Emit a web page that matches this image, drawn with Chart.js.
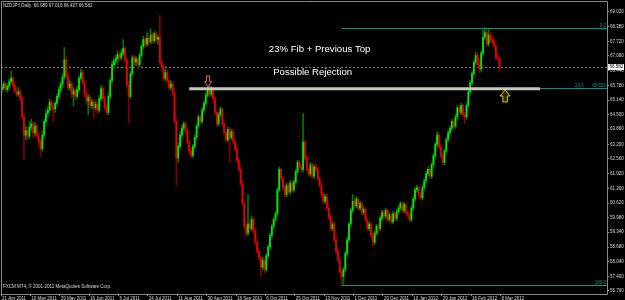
<!DOCTYPE html>
<html>
<head>
<meta charset="utf-8">
<script src="https://cdn.jsdelivr.net/npm/chart.js@4.4.0/dist/chart.umd.min.js"></script>
<style>
  html, body { margin: 0; padding: 0; background: #000; }
  canvas { display: block; }
</style>
</head>
<body>
<canvas id="grafico" width="625" height="300"></canvas>
<script>
// Etiquetas de fecha (una cada 16 velas) y del eje de precios
const fechas = ["21 Apr 2011", "10 May 2011", "29 May 2011", "16 Jun 2011", "5 Jul 2011", "24 Jul 2011",
  "11 Aug 2011", "30 Aug 2011", "18 Sep 2011", "6 Oct 2011", "25 Oct 2011", "13 Nov 2011",
  "1 Dec 2011", "20 Dec 2011", "10 Jan 2012", "29 Jan 2012", "16 Feb 2012", "8 Mar 2012"];
const precioTicks = [56.760, 57.400, 58.040, 58.680, 59.340, 59.980, 60.620, 61.260, 61.920, 62.560,
  63.200, 63.860, 64.500, 65.140, 65.780, 66.440, 67.080, 67.720, 68.380, 69.020];

// Velas diarias NZDJPY
const aperturas = [
  65.60,65.70,65.85,65.60,65.75,65.95,66.10,65.80,65.55,65.40,
  65.50,65.20,64.40,63.60,63.80,63.55,63.95,64.10,63.70,64.00,
  63.60,63.30,63.00,63.60,64.20,64.55,64.70,65.05,64.85,64.75,
  65.00,65.30,65.60,65.85,66.15,66.90,66.20,65.70,65.85,65.40,
  65.55,65.30,65.60,66.10,66.35,65.90,65.40,65.10,65.25,64.90,
  65.05,64.80,64.95,64.70,65.20,65.65,65.20,64.80,64.60,65.30,
  66.00,66.70,66.85,66.95,67.15,67.00,67.20,67.40,66.90,65.80,
  65.30,66.30,67.00,66.80,66.95,66.70,67.10,67.50,67.80,67.60,
  67.85,67.70,68.00,67.75,68.05,67.80,67.90,66.80,66.60,66.10,
  66.35,66.00,65.70,65.85,65.45,64.20,62.60,63.10,63.60,63.90,
  64.10,63.80,63.30,62.90,62.70,63.10,63.50,64.00,64.40,64.20,
  64.70,65.00,65.35,65.60,65.40,65.65,65.20,64.60,64.10,64.50,
  64.75,64.10,63.70,63.40,63.85,63.50,63.75,63.30,63.00,62.50,
  62.10,61.50,60.60,59.60,59.30,59.70,59.50,59.90,59.40,58.90,
  58.50,58.20,57.80,58.10,57.70,58.30,58.70,59.20,59.60,59.90,
  60.15,61.20,62.10,61.70,61.30,61.00,61.40,61.10,61.50,61.20,
  61.55,62.00,62.40,62.20,62.10,63.30,62.60,62.10,61.90,62.30,
  61.80,62.20,62.10,61.70,61.40,61.00,60.70,60.90,60.40,60.00,
  59.50,59.70,59.00,58.50,58.10,57.60,57.40,57.70,58.40,59.00,
  59.70,60.30,60.70,60.50,60.80,60.40,60.60,60.20,60.35,59.90,
  59.50,59.70,59.20,58.90,59.30,59.60,59.50,59.95,60.20,60.05,
  60.30,59.90,60.10,59.80,60.15,59.95,60.25,60.40,60.60,60.30,
  60.55,60.20,60.10,59.90,60.40,60.80,61.20,61.30,61.00,60.85,
  61.30,61.60,61.90,62.10,61.80,62.30,62.70,63.20,63.60,63.10,
  62.70,62.40,62.90,63.40,63.70,63.90,64.20,64.00,64.40,64.80,
  64.60,64.90,64.50,64.40,64.90,65.50,65.90,66.30,66.80,67.10,
  66.70,66.50,67.20,67.90,68.10,67.60,68.00,67.80,67.70,67.50,
  67.00,66.989];
const maximos = [
  65.85,65.95,65.90,65.85,66.05,66.40,66.15,65.90,65.65,65.70,
  65.60,65.30,64.50,64.00,63.95,64.20,64.30,64.20,64.15,64.10,
  63.70,63.45,63.75,64.30,64.70,64.85,65.20,65.15,65.00,65.10,
  65.40,65.75,65.95,66.30,67.45,67.10,66.30,66.00,65.95,65.70,
  65.65,65.75,66.20,66.50,66.45,66.00,65.55,65.40,65.35,65.20,
  65.15,65.10,65.05,65.35,65.80,65.75,65.30,64.95,65.45,66.10,
  66.85,67.00,67.10,67.30,67.25,67.35,67.80,67.50,67.00,65.95,
  66.40,67.10,67.10,67.05,67.00,67.20,67.60,67.95,67.90,68.10,
  67.95,68.25,68.10,68.15,68.15,68.00,68.85,66.95,66.70,66.50,
  66.45,66.10,66.00,65.95,65.55,64.30,63.25,63.75,64.05,64.20,
  64.20,63.90,63.40,63.05,63.20,63.60,64.10,64.50,64.50,64.80,
  65.10,65.45,65.72,65.70,65.75,65.70,65.30,64.70,64.60,64.85,
  64.80,64.20,63.80,63.95,63.95,63.85,63.85,63.40,63.10,62.60,
  62.20,61.60,60.70,59.75,61.00,59.85,60.05,60.00,59.50,59.05,
  58.60,58.30,58.25,58.20,58.40,58.80,59.30,59.70,60.00,60.25,
  61.30,62.20,62.15,61.80,61.40,61.50,61.50,61.60,61.60,61.65,
  62.10,62.50,62.50,62.30,64.55,63.40,62.70,62.20,62.40,62.40,
  62.30,62.35,62.20,61.80,61.50,61.10,61.00,61.00,60.50,60.10,
  59.80,59.80,59.10,58.60,58.20,57.70,57.80,58.50,59.10,59.80,
  60.40,61.00,60.80,60.90,60.85,60.70,60.70,60.45,60.40,60.00,
  59.80,59.75,59.30,59.40,59.70,59.70,60.05,60.30,60.30,60.40,
  60.35,60.20,60.15,60.25,60.20,60.35,60.50,60.70,60.65,60.65,
  60.60,60.30,60.20,60.50,60.90,61.30,61.40,61.35,61.10,61.40,
  61.70,62.00,62.20,62.15,62.40,62.80,63.30,63.75,63.70,63.20,
  62.80,63.00,63.50,63.80,64.00,64.30,64.30,64.50,64.90,64.90,
  65.00,64.95,64.60,65.00,65.60,66.00,66.40,66.90,67.25,67.20,
  66.95,67.30,68.20,68.321,68.20,68.30,68.10,68.00,67.85,67.60,
  67.20,67.016];
const minimos = [
  65.45,65.60,65.50,65.50,65.65,65.85,65.70,65.45,65.30,65.30,
  65.10,64.30,62.55,63.40,63.35,63.45,63.80,63.50,63.55,63.45,
  63.10,62.65,62.90,63.50,64.05,64.40,64.60,64.70,64.20,64.60,
  64.90,65.20,65.45,65.70,66.05,66.10,65.60,65.55,65.25,64.90,
  65.15,65.20,65.50,66.00,65.80,65.30,64.95,64.50,64.80,64.75,
  64.35,64.70,64.55,64.60,65.10,65.10,64.70,64.50,64.50,65.20,
  65.90,66.55,66.70,66.80,66.85,66.90,67.10,66.80,65.70,64.15,
  65.20,66.20,66.70,66.65,66.55,66.60,67.00,67.40,67.45,67.50,
  67.55,67.60,67.60,67.65,67.70,67.60,66.70,66.45,66.00,66.00,
  65.90,65.60,65.60,65.35,64.10,61.40,62.40,63.00,63.45,63.75,
  63.70,63.20,62.80,62.60,62.60,63.00,63.40,63.90,64.05,64.10,
  64.60,64.90,65.25,65.30,65.30,65.10,64.50,64.00,64.00,64.40,
  64.00,63.60,63.30,63.30,62.40,63.40,63.20,62.90,62.40,62.00,
  61.40,60.50,59.50,59.15,59.20,59.35,59.40,59.30,58.80,58.40,
  58.10,57.40,57.70,57.55,57.60,58.20,58.60,59.10,59.50,59.80,
  60.05,61.10,61.60,61.20,60.90,60.90,61.00,61.00,61.10,61.10,
  61.45,61.90,62.10,61.95,62.00,62.50,62.00,61.80,61.80,61.70,
  61.70,62.00,61.60,61.30,60.90,60.60,60.60,60.30,59.90,59.40,
  59.40,58.90,58.40,58.00,57.50,57.011,57.05,57.60,58.30,58.90,
  59.60,60.20,60.40,60.40,60.30,60.30,60.10,60.10,59.80,59.40,
  59.40,59.10,58.70,58.80,59.20,59.20,59.40,59.85,59.90,59.95,
  59.80,59.80,59.70,59.70,59.85,59.85,60.15,60.30,60.20,60.20,
  60.10,60.00,59.80,59.80,60.30,60.70,61.10,60.90,60.75,60.75,
  61.20,61.50,61.80,61.70,61.70,62.20,62.60,63.10,63.00,62.60,
  62.30,62.30,62.80,63.30,63.60,63.80,63.90,63.90,64.30,64.50,
  64.50,64.40,64.10,64.30,64.80,65.40,65.80,66.20,66.70,66.60,
  66.35,66.40,67.10,67.80,67.50,67.50,67.70,67.60,67.40,66.90,
  66.85,66.427];
const cierres = [
  65.70,65.85,65.60,65.75,65.95,66.10,65.80,65.55,65.40,65.50,
  65.20,64.40,63.60,63.80,63.55,63.95,64.10,63.70,64.00,63.60,
  63.30,63.00,63.60,64.20,64.55,64.70,65.05,64.85,64.75,65.00,
  65.30,65.60,65.85,66.15,66.90,66.20,65.70,65.85,65.40,65.55,
  65.30,65.60,66.10,66.35,65.90,65.40,65.10,65.25,64.90,65.05,
  64.80,64.95,64.70,65.20,65.65,65.20,64.80,64.60,65.30,66.00,
  66.70,66.85,66.95,67.15,67.00,67.20,67.40,66.90,65.80,65.30,
  66.30,67.00,66.80,66.95,66.70,67.10,67.50,67.80,67.60,67.85,
  67.70,68.00,67.75,68.05,67.80,67.90,66.80,66.60,66.10,66.35,
  66.00,65.70,65.85,65.45,64.20,62.60,63.10,63.60,63.90,64.10,
  63.80,63.30,62.90,62.70,63.10,63.50,64.00,64.40,64.20,64.70,
  65.00,65.35,65.60,65.40,65.65,65.20,64.60,64.10,64.50,64.75,
  64.10,63.70,63.40,63.85,63.50,63.75,63.30,63.00,62.50,62.10,
  61.50,60.60,59.60,59.30,59.70,59.50,59.90,59.40,58.90,58.50,
  58.20,57.80,58.10,57.70,58.30,58.70,59.20,59.60,59.90,60.15,
  61.20,62.10,61.70,61.30,61.00,61.40,61.10,61.50,61.20,61.55,
  62.00,62.40,62.20,62.10,63.30,62.60,62.10,61.90,62.30,61.80,
  62.20,62.10,61.70,61.40,61.00,60.70,60.90,60.40,60.00,59.50,
  59.70,59.00,58.50,58.10,57.60,57.40,57.70,58.40,59.00,59.70,
  60.30,60.70,60.50,60.80,60.40,60.60,60.20,60.35,59.90,59.50,
  59.70,59.20,58.90,59.30,59.60,59.50,59.95,60.20,60.05,60.30,
  59.90,60.10,59.80,60.15,59.95,60.25,60.40,60.60,60.30,60.55,
  60.20,60.10,59.90,60.40,60.80,61.20,61.30,61.00,60.85,61.30,
  61.60,61.90,62.10,61.80,62.30,62.70,63.20,63.60,63.10,62.70,
  62.40,62.90,63.40,63.70,63.90,64.20,64.00,64.40,64.80,64.60,
  64.90,64.50,64.40,64.90,65.50,65.90,66.30,66.80,67.10,66.70,
  66.50,67.20,67.90,68.10,67.60,68.00,67.80,67.70,67.50,67.00,
  66.99,66.582];

// Niveles de Fibonacci y precio actual
const fiboMax = 68.321;
const fiboMin = 57.011;
const fiboNiveles = [0.0, 23.6, 100.0];
const ultimoPrecio = 66.582;
const titulo = "NZDJPY,Daily  66.989 67.016 66.427 66.582";
const pie = "FXCM MT4, \u00A9 2001-2011 MetaQuotes Software Corp.";

// 1. Eje X: 330 ranuras, etiqueta cada 16 velas
const totalRanuras = 330;
const cadaN = 16;
const etiquetasX = Array.from({length: totalRanuras}, (_, i) =>
  (i % cadaN === 0 && fechas[i / cadaN]) ? fechas[i / cadaN] : '');

const verde = 'rgb(0,235,0)';
const rojo = 'rgb(235,0,0)';
const colores = cierres.map((c, i) => c >= aperturas[i] ? verde : rojo);
const coloresMecha = cierres.map((c, i) => c >= aperturas[i] ? 'rgb(0,120,0)' : 'rgb(130,0,0)');

const fuente = 'Liberation Sans';

// 2. Fondo negro
const fondo = {
  id: 'fondo',
  beforeDraw(chart) {
    const c = chart.ctx;
    c.save();
    c.fillStyle = '#000';
    c.fillRect(0, 0, chart.width, chart.height);
    c.restore();
  }
};

function flecha(c, cx, yBase, yPunta, ancho, anchoCuerpo, trazo, relleno) {
  const dir = yPunta > yBase ? 1 : -1;
  const largo = Math.abs(yPunta - yBase);
  const yCab = yBase + dir * largo * 0.5;
  c.beginPath();
  c.moveTo(cx - anchoCuerpo / 2, yBase);
  c.lineTo(cx + anchoCuerpo / 2, yBase);
  c.lineTo(cx + anchoCuerpo / 2, yCab);
  c.lineTo(cx + ancho / 2, yCab);
  c.lineTo(cx, yPunta);
  c.lineTo(cx - ancho / 2, yCab);
  c.lineTo(cx - anchoCuerpo / 2, yCab);
  c.closePath();
  c.fillStyle = relleno;
  c.fill();
  c.strokeStyle = trazo;
  c.lineWidth = 1;
  c.stroke();
}

// 3. Objetos dibujados encima (líneas, fibo, textos, flechas)
const anotaciones = {
  id: 'anotaciones',
  beforeDatasetsDraw(chart) {
    const {ctx: c, chartArea: a, scales: {y}} = chart;
    c.save();
    // línea de precio actual
    const yp = Math.round(y.getPixelForValue(ultimoPrecio)) + 0.5;
    c.strokeStyle = '#7a7a7a';
    c.setLineDash([2, 2]);
    c.beginPath();
    c.moveTo(a.left, yp);
    c.lineTo(a.right, yp);
    c.stroke();
    c.restore();
  },
  afterDatasetsDraw(chart) {
    const {ctx: c, chartArea: a, scales: {x, y}} = chart;
    c.save();

    // fibonacci
    const teal = 'rgb(0,150,140)';
    const x0 = x.getPixelForValue(185);
    c.font = '4.5px "' + fuente + '"';
    fiboNiveles.forEach(n => {
      const precio = fiboMax - (fiboMax - fiboMin) * n / 100;
      const yy = Math.round(y.getPixelForValue(precio)) + 0.5;
      c.strokeStyle = teal;
      c.lineWidth = 1;
      c.beginPath();
      c.moveTo(x0, yy);
      c.lineTo(a.right, yy);
      c.stroke();
      c.fillStyle = teal;
      c.textAlign = 'right';
      c.textBaseline = 'bottom';
      if (n === 23.6) {
        c.fillText(precio.toFixed(3), a.right - 1, yy - 0.5);
        c.textAlign = 'left';
        c.fillText(n.toFixed(1), a.right - 32, yy - 0.5);
      } else {
        c.fillText(n.toFixed(1), a.right - 1, yy - 0.5);
      }
    });

    // línea gris de soporte
    const ys = y.getPixelForValue(65.64);
    c.strokeStyle = 'rgb(196,200,186)';
    c.lineWidth = 3;
    c.beginPath();
    c.moveTo(x.getPixelForValue(102), ys);
    c.lineTo(x.getPixelForValue(293), ys);
    c.stroke();

    // flechas
    flecha(c, x.getPixelForValue(112.3), y.getPixelForValue(66.2), y.getPixelForValue(65.72),
      7, 3, 'rgb(225,110,80)', '#000');
    flecha(c, x.getPixelForValue(274), y.getPixelForValue(65.06), y.getPixelForValue(65.58),
      10, 4.5, 'rgb(215,210,0)', 'rgb(40,38,0)');

    // textos
    c.fillStyle = '#ffffff';
    c.textAlign = 'center';
    c.textBaseline = 'middle';
    c.font = '9.6px "' + fuente + '"';
    c.fillText('23% Fib + Previous Top', x.getPixelForValue(173), y.getPixelForValue(67.35));
    c.fillText('Possible Rejection', x.getPixelForValue(169.2), y.getPixelForValue(66.34));

    // marco
    c.strokeStyle = '#8a8a8a';
    c.lineWidth = 1;
    c.beginPath();
    c.moveTo(a.left + 0.5, a.bottom + 0.5);
    c.lineTo(a.left + 0.5, a.top + 0.5);
    c.lineTo(a.right + 0.5, a.top + 0.5);
    c.lineTo(a.right + 0.5, a.bottom + 0.5);
    c.lineTo(a.left + 0.5, a.bottom + 0.5);
    c.stroke();

    // título y pie
    c.fillStyle = '#d8d8d8';
    c.textAlign = 'left';
    c.textBaseline = 'middle';
    c.font = '4.5px "' + fuente + '"';
    c.fillText(titulo, a.left + 2, a.top + 4.5);
    c.fillText(pie, a.left + 2, a.bottom - 7);
    c.restore();
  },
  afterDraw(chart) {
    const {ctx: c, chartArea: a, scales: {y}} = chart;
    const yp = y.getPixelForValue(ultimoPrecio);
    c.save();
    c.fillStyle = '#ffffff';
    c.fillRect(a.right + 1, Math.round(yp) - 3, 16, 6);
    c.fillStyle = '#000';
    c.font = '4.5px "' + fuente + '"';
    c.textAlign = 'left';
    c.textBaseline = 'middle';
    c.fillText(ultimoPrecio.toFixed(3), a.right + 2.5, Math.round(yp));
    c.restore();
  }
};

// 4. Gráfico de velas con barras flotantes
new Chart(document.getElementById('grafico'), {
  type: 'bar',
  data: {
    labels: etiquetasX,
    datasets: [
      {
        label: 'mechas',
        data: minimos.map((l, i) => [l, maximos[i]]),
        backgroundColor: coloresMecha,
        barThickness: 1,
        grouped: false,
        order: 2
      },
      {
        label: 'cuerpos',
        data: aperturas.map((o, i) => [o, cierres[i]]),
        backgroundColor: colores,
        barThickness: 1.1,
        minBarLength: 1,
        grouped: false,
        order: 1
      }
    ]
  },
  options: {
    responsive: false,
    animation: false,
    devicePixelRatio: 1,
    layout: { padding: { left: 1, top: 1, right: 0, bottom: 0 } },
    plugins: { legend: { display: false }, tooltip: { enabled: false } },
    scales: {
      x: {
        type: 'category',
        offset: true,
        border: { display: false },
        grid: {
          drawOnChartArea: false,
          drawTicks: true,
          tickLength: 2,
          color: ctx => etiquetasX[ctx.index] ? '#8a8a8a' : 'rgba(0,0,0,0)'
        },
        ticks: {
          autoSkip: false, maxRotation: 0, minRotation: 0, align: 'start', padding: 0,
          color: '#d8d8d8', font: { family: fuente, size: 4.5 }
        },
        afterFit: s => { s.height = 6; s.paddingLeft = 0; s.paddingRight = 0; }
      },
      y: {
        position: 'right',
        min: 56.628,
        max: 69.49,
        border: { display: false },
        grid: { drawOnChartArea: false, drawTicks: true, tickLength: 2, color: '#8a8a8a' },
        afterBuildTicks: s => { s.ticks = precioTicks.map(v => ({ value: v })); },
        ticks: {
          callback: v => Number(v).toFixed(3),
          padding: 1,
          color: '#d8d8d8',
          font: { family: fuente, size: 4.5 }
        },
        afterFit: s => { s.width = 18; s.paddingTop = 0; s.paddingBottom = 0; }
      }
    }
  },
  plugins: [fondo, anotaciones]
});
</script>
</body>
</html>
